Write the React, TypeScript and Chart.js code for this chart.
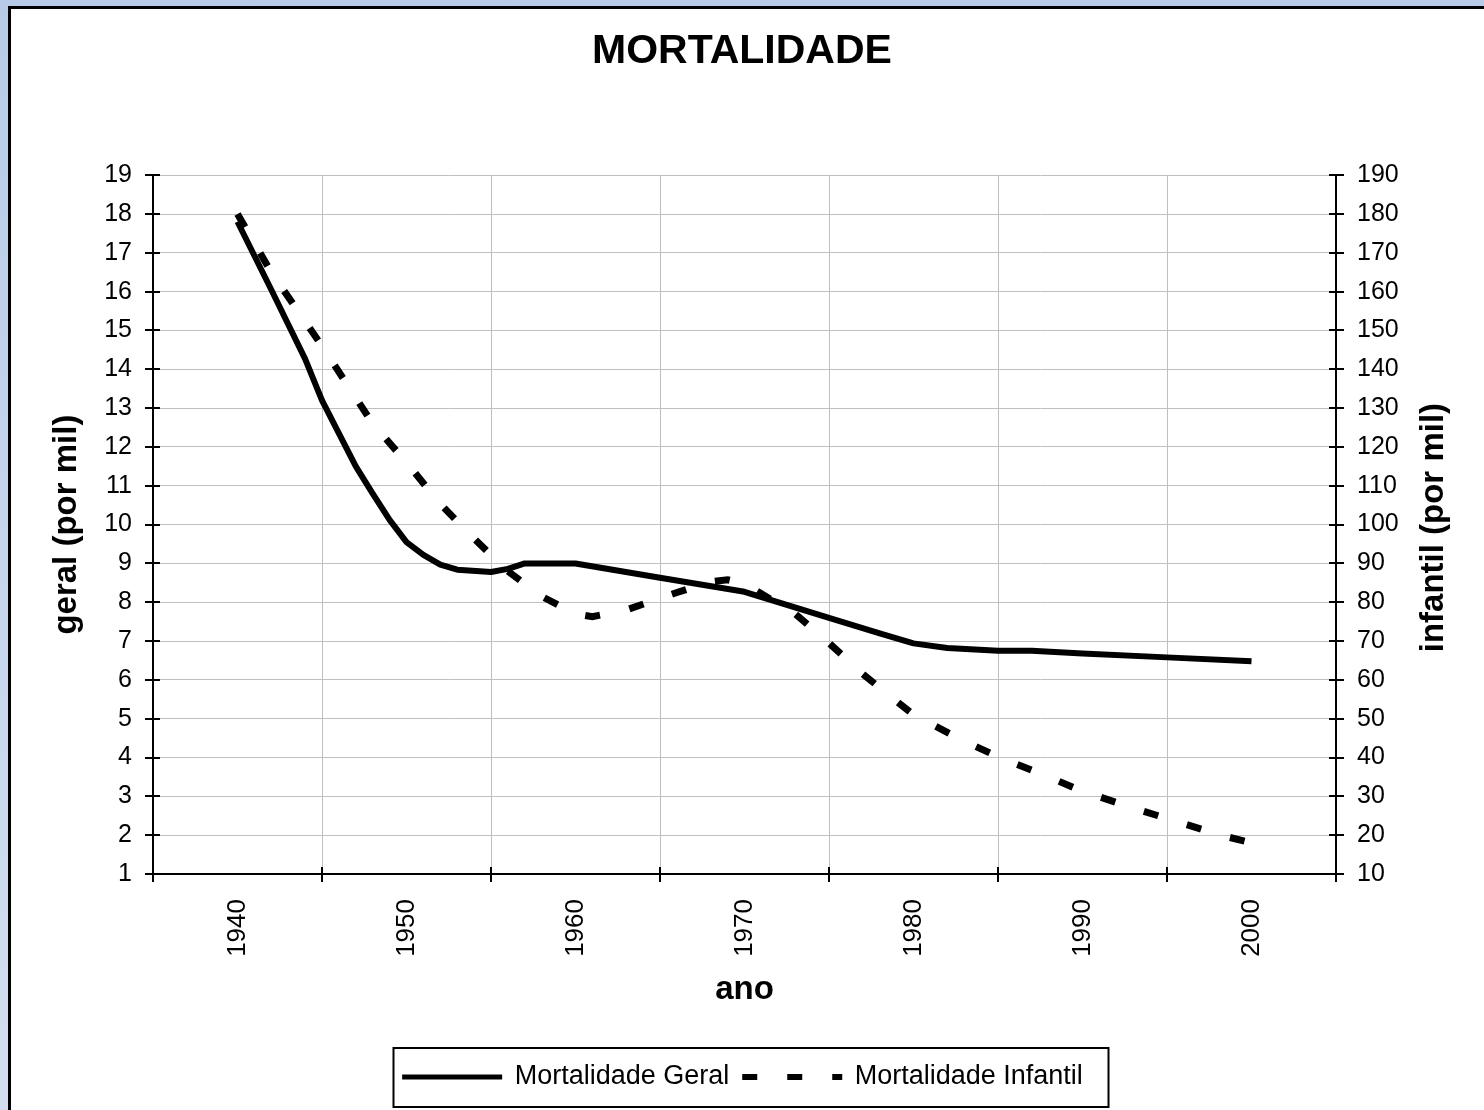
import React, { useEffect, useRef } from 'react';
import { Chart, registerables } from 'chart.js';

Chart.register(...registerables);

const FONT = '"Liberation Sans", Arial, Helvetica, sans-serif';

const chartTitle = 'MORTALIDADE';
const xAxisTitle = 'ano';
const leftAxisTitle = 'geral (por mil)';
const rightAxisTitle = 'infantil (por mil)';
const seriesNames = ['Mortalidade Geral', 'Mortalidade Infantil'];

const decadeLabels = [1940, 1950, 1960, 1970, 1980, 1990, 2000];
const categoryBoundaries = [1935, 1945, 1955, 1965, 1975, 1985, 1995, 2005];

const geralYears = [1940, 1942, 1944, 1945, 1946, 1947, 1948, 1949, 1950, 1951, 1952, 1953, 1955, 1956, 1957, 1960, 1965, 1970, 1975, 1978, 1980, 1982, 1985, 1987, 1990, 1995, 2000];
const geralValues = [17.8, 16.05, 14.27, 13.2, 12.35, 11.5, 10.8, 10.12, 9.55, 9.22, 8.97, 8.84, 8.78, 8.86, 9.0, 9.0, 8.63, 8.27, 7.6, 7.2, 6.94, 6.82, 6.75, 6.75, 6.68, 6.58, 6.48];

const infantilYears = [1940, 1942, 1945, 1948, 1950, 1952, 1954, 1956, 1958, 1960, 1961, 1963, 1966, 1968, 1969, 1970, 1973, 1975, 1977, 1980, 1983, 1985, 1988, 1990, 1993, 1995, 1998, 2000];
const infantilValues = [180, 165, 146, 126, 116, 105.3, 96.4, 88, 81.5, 77, 76.3, 78, 82.5, 85.3, 85.8, 84.8, 77, 69.5, 61.5, 51, 44.2, 40.2, 35, 31.3, 27, 24.3, 20.2, 18];

const xTickValues = [...categoryBoundaries, ...decadeLabels].sort((a, b) => a - b);

const LEGEND_SAMPLE = 100;

const decorPlugin = {
  id: 'decor',
  afterDraw(chart: any) {
    const { ctx, chartArea, scales } = chart;
    const { left, right, top, bottom } = chartArea;
    ctx.save();
    ctx.strokeStyle = '#000';
    ctx.lineWidth = 2;
    ctx.setLineDash([]);
    ctx.beginPath();
    scales.y.ticks.forEach((t: any) => {
      const y = Math.round(scales.y.getPixelForValue(t.value));
      ctx.moveTo(left - 8, y);
      ctx.lineTo(left + 7, y);
    });
    scales.y1.ticks.forEach((t: any) => {
      const y = Math.round(scales.y1.getPixelForValue(t.value));
      ctx.moveTo(right - 7, y);
      ctx.lineTo(right + 8, y);
    });
    categoryBoundaries.forEach((v) => {
      const x = Math.round(scales.x.getPixelForValue(v));
      ctx.moveTo(x, bottom - 7);
      ctx.lineTo(x, bottom + 8);
    });
    ctx.stroke();

    // right axis title, reading bottom to top
    ctx.fillStyle = '#000';
    ctx.font = `bold 33px ${FONT}`;
    ctx.textAlign = 'center';
    ctx.textBaseline = 'middle';
    ctx.save();
    ctx.translate(1434, (top + bottom) / 2 + 3);
    ctx.rotate(-Math.PI / 2);
    ctx.fillText(rightAxisTitle, 0, 0);
    ctx.restore();

    // legend samples and frame
    const hb = chart.legend && chart.legend.legendHitBoxes;
    if (hb && hb.length) {
      hb.forEach((box: any, i: number) => {
        const ds = chart.data.datasets[i];
        const cy = Math.round(box.top + box.height / 2);
        ctx.save();
        ctx.strokeStyle = '#000';
        ctx.lineCap = 'butt';
        ctx.lineWidth = ds.borderDash ? 6 : 5;
        ctx.setLineDash(ds.borderDash || []);
        ctx.beginPath();
        ctx.moveTo(box.left + 1, cy);
        ctx.lineTo(box.left + 1 + LEGEND_SAMPLE, cy);
        ctx.stroke();
        ctx.restore();
      });
      const first = hb[0];
      const last = hb[hb.length - 1];
      const lx = first.left - 8;
      const rx = last.left + last.width + 25;
      const cy = first.top + first.height / 2;
      ctx.lineWidth = 2;
      ctx.setLineDash([]);
      ctx.strokeRect(Math.round(lx) + 0.5, Math.round(cy - 29), Math.round(rx - lx), 59);
    }
    ctx.restore();
  },
};

export default function App() {
  const canvasRef = useRef<HTMLCanvasElement | null>(null);

  useEffect(() => {
    if (!canvasRef.current) return;
    Chart.defaults.font.family = FONT;
    const chart = new Chart(canvasRef.current, {
      type: 'line',
      data: {
        datasets: [
          {
            label: seriesNames[0],
            data: geralYears.map((x, i) => ({ x, y: geralValues[i] })),
            yAxisID: 'y',
            borderColor: '#000',
            backgroundColor: '#000',
            borderWidth: 6,
            pointRadius: 0,
            tension: 0,
            borderJoinStyle: 'round',
            borderCapStyle: 'butt',
          },
          {
            label: seriesNames[1],
            data: infantilYears.map((x, i) => ({ x, y: infantilValues[i] })),
            yAxisID: 'y1',
            borderColor: '#000',
            backgroundColor: '#000',
            borderWidth: 7,
            borderDash: [15, 30],
            pointRadius: 0,
            tension: 0,
            borderJoinStyle: 'miter',
            borderCapStyle: 'butt',
          },
        ],
      },
      options: {
        responsive: false,
        animation: false,
        devicePixelRatio: 1,
        layout: { padding: { left: 0, right: 0, top: 0, bottom: 10 } },
        plugins: {
          title: {
            display: true,
            text: chartTitle,
            color: '#000',
            font: { size: 41, weight: 'bold', family: FONT },
            padding: { top: 27, bottom: 99 },
          },
          legend: {
            position: 'bottom',
            labels: {
              usePointStyle: true,
              pointStyle: 'line',
              pointStyleWidth: LEGEND_SAMPLE,
              color: '#000',
              font: { size: 27, family: FONT },
              padding: 12,
              generateLabels: (chart: any) =>
                Chart.defaults.plugins.legend.labels.generateLabels(chart).map((item: any) => ({
                  ...item,
                  strokeStyle: 'rgba(0,0,0,0)',
                  fillStyle: 'rgba(0,0,0,0)',
                  lineWidth: 0,
                  fontColor: '#000',
                })),
            },
          },
          tooltip: { enabled: false },
        },
        scales: {
          x: {
            type: 'linear',
            min: 1935,
            max: 2005,
            afterBuildTicks: (s: any) => {
              s.ticks = xTickValues.map((v) => ({ value: v }));
            },
            afterFit: (s: any) => {
              s.height = 177;
            },
            ticks: {
              autoSkip: false,
              minRotation: 90,
              maxRotation: 90,
              padding: 25,
              color: '#000',
              font: { size: 26, family: FONT },
              callback: (v: any) => (decadeLabels.includes(Number(v)) ? String(v) : ''),
            },
            grid: {
              drawTicks: false,
              lineWidth: 1,
              color: (c: any) =>
                c.tick && categoryBoundaries.includes(c.tick.value) ? '#bfbfbf' : 'rgba(0,0,0,0)',
            },
            border: { color: '#000', width: 2 },
            title: {
              display: true,
              text: xAxisTitle,
              color: '#000',
              font: { size: 33, weight: 'bold', family: FONT },
              padding: { top: 0, bottom: 41 },
            },
          },
          y: {
            type: 'linear',
            position: 'left',
            min: 1,
            max: 19,
            afterFit: (s: any) => {
              s.width = 153;
            },
            ticks: {
              stepSize: 1,
              padding: 21,
              color: '#000',
              font: { size: 25, family: FONT },
            },
            grid: { drawTicks: false, color: '#bfbfbf', lineWidth: 1 },
            border: { color: '#000', width: 2 },
            title: {
              display: true,
              text: leftAxisTitle,
              color: '#000',
              font: { size: 33, weight: 'bold', family: FONT },
              padding: { top: 47, bottom: 0 },
            },
          },
          y1: {
            type: 'linear',
            position: 'right',
            min: 10,
            max: 190,
            afterFit: (s: any) => {
              s.width = 148;
            },
            ticks: {
              stepSize: 10,
              padding: 21,
              color: '#000',
              font: { size: 25, family: FONT },
            },
            grid: { drawOnChartArea: false, drawTicks: false },
            border: { color: '#000', width: 2 },
          },
        },
      },
      plugins: [decorPlugin],
    } as any);
    return () => chart.destroy();
  }, []);

  return (
    <div
      style={{
        position: 'fixed',
        left: 0,
        top: 0,
        width: 1484,
        height: 1110,
        overflow: 'hidden',
        background: 'linear-gradient(180deg, #b7cbe8 0%, #d3dff0 100%)',
      }}
    >
      <div
        style={{
          position: 'absolute',
          left: 8,
          top: 6,
          width: 1500,
          height: 1130,
          background: '#ffffff',
          borderLeft: '3px solid #000',
          borderTop: '3px solid #000',
        }}
      />
      <canvas
        ref={canvasRef}
        width={1484}
        height={1110}
        style={{ position: 'absolute', left: 0, top: 0, width: 1484, height: 1110 }}
      />
    </div>
  );
}
